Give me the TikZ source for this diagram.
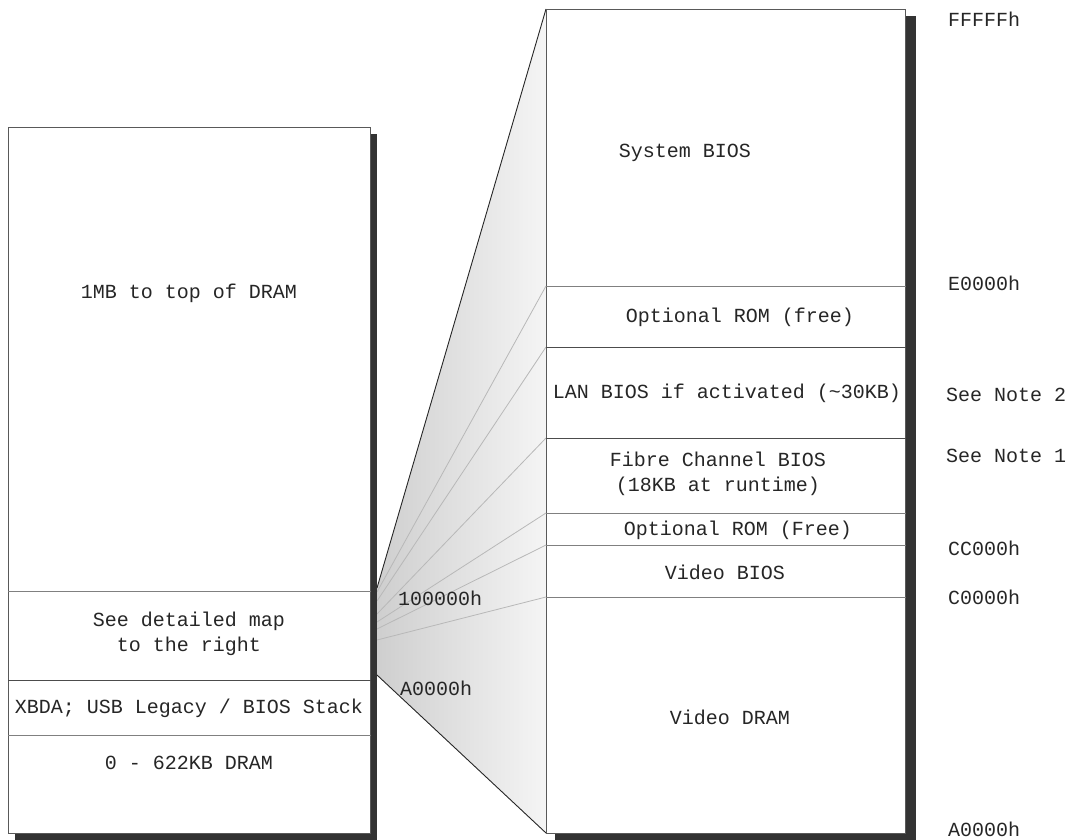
\documentclass[tikz,border=0pt]{standalone}
\usepackage{fontspec}
\setmainfont{Liberation Mono}
\begin{document}
\begin{tikzpicture}[x=1pt,y=-1pt,
  lbl/.style={font=\fontsize{20}{25}\selectfont, text=black!85, inner sep=0pt, align=center},
  boxframe/.style={draw=black!65, line width=1.2pt, fill=white, inner sep=0pt, anchor=north west},
  divline/.style={draw=black!70, line width=1pt},
  divlight/.style={draw=black!50, line width=1pt},
  shadowfill/.style={fill=black!80},
  ray/.style={draw=black!28, line width=0.8pt},
  fanedge/.style={draw=black!85, line width=0.9pt}]
\useasboundingbox (0,0) rectangle (1069,840);

% ---------- fan ----------
\coordinate (fanTL) at (377,588);
\coordinate (fanBL) at (377,675);
\coordinate (fanTR) at (546,9);
\coordinate (fanBR) at (546,833);
\shade[left color=black!19, right color=black!4] (fanTL) -- (fanTR) -- (fanBR) -- (fanBL) -- cycle;
\draw[fanedge] (fanTL) -- (fanTR);
\draw[fanedge] (fanBL) -- (fanBR);

\coordinate (r1) at (546,286); \coordinate (l1) at (377,592);
\coordinate (r2) at (546,347); \coordinate (l2) at (377,601);
\coordinate (r3) at (546,438); \coordinate (l3) at (377,614);
\coordinate (r4) at (546,513); \coordinate (l4) at (377,622);
\coordinate (r5) at (546,545); \coordinate (l5) at (377,629);
\coordinate (r6) at (546,597); \coordinate (l6) at (377,640);
\foreach \i in {1,...,6} { \draw[ray] (l\i) -- (r\i); }

% ---------- shadows ----------
\fill[shadowfill] (370,134) rectangle (377,840);
\fill[shadowfill] (15,833) rectangle (377,840);
\fill[shadowfill] (905,16) rectangle (916,840);
\fill[shadowfill] (555,833) rectangle (916,840);

% ---------- left box ----------
\node[boxframe, minimum width=362pt, minimum height=706pt] (leftbox) at (8,127) {};
\draw[divlight] (leftbox.west |- 0,591) -- (leftbox.east |- 0,591);
\draw[divline]  (leftbox.west |- 0,680) -- (leftbox.east |- 0,680);
\draw[divlight] (leftbox.west |- 0,735) -- (leftbox.east |- 0,735);

\node[lbl] (ltop) at (189,293) {1MB to top of DRAM};
\node[lbl] (lmap) at (189,634) {See detailed map\\to the right};
\node[lbl] (lxbda) at (189,708) {XBDA; USB Legacy / BIOS Stack};
\node[lbl] (ldram) at (189,763) {0 - 622KB DRAM};

% ---------- right box ----------
\node[boxframe, minimum width=359pt, minimum height=824pt] (rightbox) at (546,9) {};
\draw[divlight] (rightbox.west |- 0,286) -- (rightbox.east |- 0,286);
\draw[divline]  (rightbox.west |- 0,347) -- (rightbox.east |- 0,347);
\draw[divline]  (rightbox.west |- 0,438) -- (rightbox.east |- 0,438);
\draw[divlight] (rightbox.west |- 0,513) -- (rightbox.east |- 0,513);
\draw[divlight] (rightbox.west |- 0,545) -- (rightbox.east |- 0,545);
\draw[divlight] (rightbox.west |- 0,597) -- (rightbox.east |- 0,597);

\node[lbl] (rsys) at (685,153) {System BIOS};
\node[lbl] (ropt1) at (740,317) {Optional ROM (free)};
\node[lbl] (rlan) at (727,393) {LAN BIOS if activated (\textasciitilde30KB)};
\node[lbl] (rfc) at (718,474) {Fibre Channel BIOS\\(18KB at runtime)};
\node[lbl] (ropt2) at (738,530) {Optional ROM (Free)};
\node[lbl] (rvbios) at (725,572) {Video BIOS};
\node[lbl] (rvdram) at (730,717) {Video DRAM};

% ---------- address labels ----------
\node[lbl, anchor=west] (aF) at (948,19) {FFFFFh};
\node[lbl, anchor=west] (aE) at (948,283) {E0000h};
\node[lbl, anchor=west] (aN2) at (946,395) {See Note 2};
\node[lbl, anchor=west] (aN1) at (946,456) {See Note 1};
\node[lbl, anchor=west] (aCC) at (948,548) {CC000h};
\node[lbl, anchor=west] (aC) at (948,597) {C0000h};
\node[lbl, anchor=west] (aA) at (948,829) {A0000h};

\node[lbl, anchor=west] (f1) at (398,598) {100000h};
\node[lbl, anchor=west] (f2) at (400,688) {A0000h};
\end{tikzpicture}
\end{document}
